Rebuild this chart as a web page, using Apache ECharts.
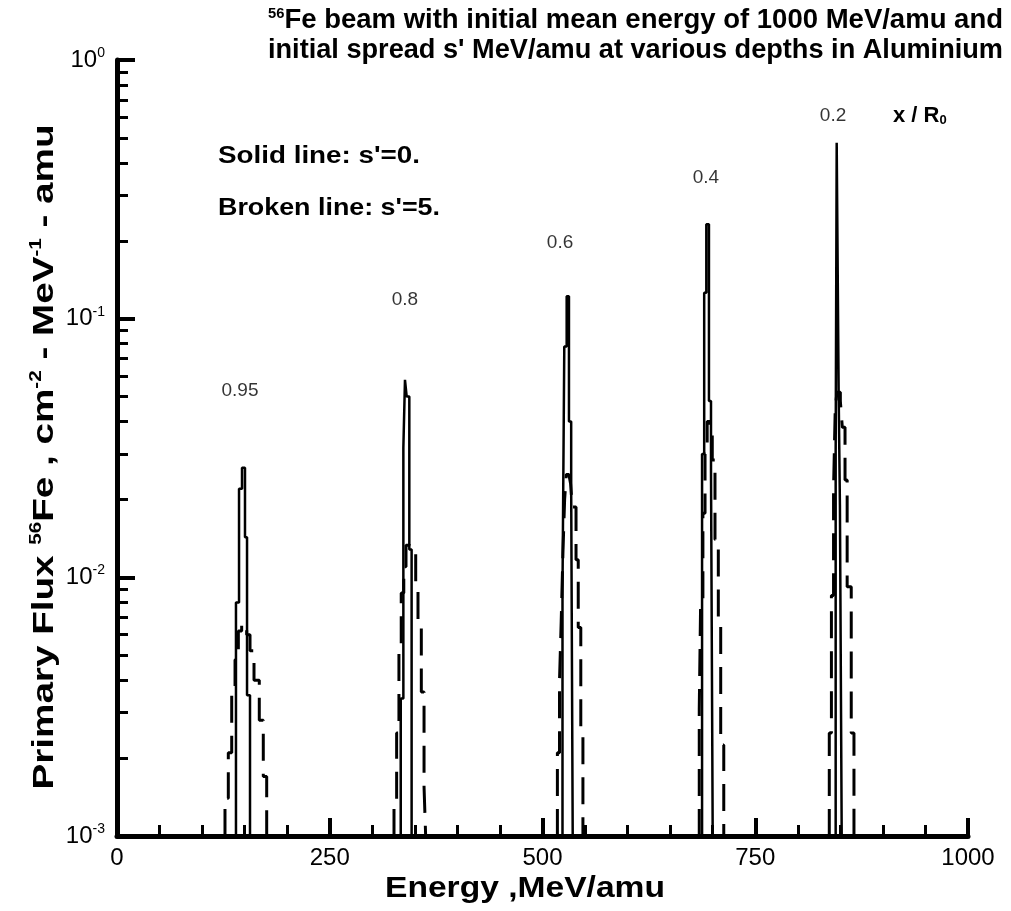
<!DOCTYPE html>
<html><head><meta charset="utf-8">
<script src="https://cdn.jsdelivr.net/npm/echarts@6/dist/echarts.min.js"></script>
<style>html,body{margin:0;padding:0;background:#fff}#c{width:1011px;height:911px}</style>
</head><body><div id="c"></div>
<script>
const FONT = "'Liberation Sans',Arial,sans-serif";

// ---- tick labels ----
const xTickValues = [0, 250, 500, 750, 1000];
const yMinorTicks = [0.002,0.003,0.004,0.005,0.006,0.007,0.008,0.009,
                     0.02,0.03,0.04,0.05,0.06,0.07,0.08,0.09,
                     0.2,0.3,0.4,0.5,0.6,0.7,0.8,0.9];

// ---- depth labels x/R0 ----
const depthLabels = ['0.95', '0.8', '0.6', '0.4', '0.2'];
const depthLabelE = [144.5, 338.4, 520.6, 692.1, 841.4];
const depthLabelV = [0.0525, 0.118, 0.196, 0.35, 0.607];

// ---- solid lines, s'=0 (bin edges in MeV/amu, flux per bin) ----
const solid095E = [139.8, 143.4, 146.9, 150.4, 152.8, 156.3];
const solid095V = [0.008, 0.022, 0.0265, 0.0143, 0.0035];
const solid080E = [333.4, 336.5, 338.4, 340.4, 343.5, 346.2];
const solid080V = [0.0034, 0.0316, 0.058, 0.050, 0.0128];
const solid060E = [523.5, 525.6, 528.4, 531.1, 533.7, 535.5];
const solid060V = [0.009, 0.078, 0.122, 0.040, 0.022];
const solid040E = [687.5, 690.0, 692.5, 695.6, 698.0, 700.0];
const solid040V = [0.030, 0.126, 0.232, 0.048, 0.026];
const solid020E = [844.5, 845.7, 848.0, 849.5, 851.6];
const solid020V = [0.03, 0.479, 0.052, 0.019];

// ---- broken lines, s'=5 ----
const dash095E = [126.9, 130.8, 134.8, 138.7, 142.6, 146.5, 152.4, 156.3, 161.0, 167.2, 171.9, 175.9];
const dash095V = [0.0014, 0.0021, 0.0036, 0.0048, 0.0062, 0.0066, 0.0060, 0.0052, 0.0040, 0.0028, 0.0017];
const dash080E = [325.5, 328.6, 331.3, 334.0, 337.0, 339.6, 343.5, 347.4, 351.0, 353.7, 357.6, 360.8, 362.7];
const dash080V = [0.0013, 0.0025, 0.0051, 0.0087, 0.011, 0.0133, 0.0131, 0.0125, 0.0092, 0.0066, 0.0036, 0.00155];
const dash060E = [517.5, 520.0, 522.0, 524.0, 526.0, 528.0, 531.0, 533.0, 535.0, 539.4, 542.0, 545.0, 547.5];
const dash060V = [0.0021, 0.0040, 0.0068, 0.0124, 0.020, 0.025, 0.025, 0.023, 0.0187, 0.0117, 0.0064, 0.0025];
const dash040E = [684.2, 685.8, 688.5, 691.0, 693.5, 697.0, 699.5, 702.7, 706.6, 709.4, 713.0];
const dash040V = [0.0031, 0.0079, 0.0177, 0.030, 0.040, 0.036, 0.0284, 0.014, 0.007, 0.00225];
const dash020E = [837.0, 839.5, 842.0, 844.0, 846.0, 850.0, 852.3, 855.5, 858.0, 862.8, 866.0];
const dash020V = [0.0025, 0.0085, 0.022, 0.045, 0.052, 0.048, 0.038, 0.0238, 0.0092, 0.0025];

const BASE = 0.001;
function hist(edges, vals) {
  const d = [[edges[0], BASE]];
  for (let i = 0; i < vals.length; i++) d.push([edges[i], vals[i]]);
  d.push([edges[edges.length - 1], BASE]);
  return d;
}
const solidSets = [[solid095E, solid095V], [solid080E, solid080V], [solid060E, solid060V], [solid040E, solid040V], [solid020E, solid020V]];
const dashSets = [[dash095E, dash095V], [dash080E, dash080V], [dash060E, dash060V], [dash040E, dash040V], [dash020E, dash020V]];

// text width helper (to fit the narrow font of the original)
const mctx = document.createElement('canvas').getContext('2d');
function tw(str, size, bold) { mctx.font = (bold ? 'bold ' : '') + size + 'px ' + FONT; return mctx.measureText(str).width; }

const series = [];
solidSets.forEach(s => series.push({
  type: 'line', step: 'end', symbol: 'none', silent: true, animation: false,
  data: hist(s[0], s[1]), lineStyle: { color: '#000', width: 2.5, type: 'solid' }
}));
dashSets.forEach(s => series.push({
  type: 'line', step: 'end', symbol: 'none', silent: true, animation: false,
  data: hist(s[0], s[1]), lineStyle: { color: '#000', width: 3, type: [27, 13] }
}));
series.push({
  type: 'scatter', symbolSize: 0, silent: true, animation: false,
  data: depthLabels.map((t, i) => ({ value: [depthLabelE[i], depthLabelV[i]], name: t })),
  label: { show: true, position: 'inside', formatter: p => p.name, color: '#000',
           fontFamily: FONT, fontSize: 19 }
});

// title lines
const T1a = '56', T1b = 'Fe beam with initial mean energy of 1000 MeV/amu and';
const T2 = "initial spread s' MeV/amu at various depths in Aluminium";
const sc1 = 735 / (tw(T1a, 15, true) + tw(T1b, 28, true));
const sc2 = 735 / tw(T2, 28, true);
const L1 = "Solid line: s'=0.", L2 = "Broken line: s'=5.";
const scL1 = 202 / tw(L1, 24, true), scL2 = 222 / tw(L2, 24, true);
const YN = ['Primary Flux ', '56', 'Fe , cm', '-2', ' - MeV', '-1', ' - amu'];
const ynW = YN.reduce((a, s, i) => a + tw(s, i % 2 ? 16 : 30, true), 0);
const scYN = 665 / ynW;
const XN = 'Energy ,MeV/amu';
const scXN = 280 / tw(XN, 30, true);

const chart = echarts.init(document.getElementById('c'), null, { renderer: 'canvas' });
chart.setOption({
  animation: false,
  backgroundColor: '#fff',
  grid: { left: 117, right: 43, top: 60, bottom: 75, containLabel: false },
  xAxis: {
    type: 'value', min: 0, max: 1000, interval: 250,
    axisLine: { show: true, lineStyle: { color: '#000', width: 5 } },
    axisTick: { show: true, inside: true, length: 18, lineStyle: { color: '#000', width: 4 } },
    minorTick: { show: true, splitNumber: 5, length: 11, lineStyle: { color: '#000', width: 3 } },
    axisLabel: { color: '#000', fontFamily: FONT, fontSize: 24, margin: 10,
                 formatter: v => xTickValues.indexOf(v) >= 0 ? String(v) : '' },
    splitLine: { show: false }, minorSplitLine: { show: false }
  },
  yAxis: [{
    type: 'log', logBase: 10, min: 0.001, max: 1,
    axisLine: { show: true, lineStyle: { color: '#000', width: 5 } },
    axisTick: { show: true, inside: true, length: 18, lineStyle: { color: '#000', width: 4 } },
    axisLabel: { color: '#000', margin: 12,
      formatter: v => '{b|10}{s|' + Math.round(Math.log10(v)) + '}',
      rich: { b: { fontFamily: FONT, fontSize: 24, color: '#000' },
              s: { fontFamily: FONT, fontSize: 14, color: '#000', padding: [0, 0, 14, 0] } } },
    splitLine: { show: false }
  }, {
    type: 'log', logBase: 10, min: 0.001, max: 1, position: 'left',
    axisLine: { show: false },
    axisTick: { show: true, inside: true, length: 11, customValues: yMinorTicks,
                lineStyle: { color: '#000', width: 3 } },
    axisLabel: { show: false },
    splitLine: { show: false }
  }],
  series: series,
  graphic: [
    { type: 'text', x: 268, y: 6, scaleX: sc1, style: {
      text: '{s|' + T1a + '}{t|' + T1b + '}',
      rich: { s: { fontFamily: FONT, fontWeight: 'bold', fontSize: 15, fill: '#000', padding: [0, 0, 14, 0] },
              t: { fontFamily: FONT, fontWeight: 'bold', fontSize: 28, fill: '#000' } } } },
    { type: 'text', x: 268, y: 36, scaleX: sc2, style: {
      text: T2, font: "bold 28px " + FONT, fill: '#000' } },
    { type: 'text', x: 218, y: 144, scaleX: scL1, style: {
      text: L1, font: "bold 24px " + FONT, fill: '#000' } },
    { type: 'text', x: 218, y: 196, scaleX: scL2, style: {
      text: L2, font: "bold 24px " + FONT, fill: '#000' } },
    { type: 'text', x: 893, y: 104, style: {
      text: '{t|x / R}{u|0}',
      rich: { t: { fontFamily: FONT, fontWeight: 'bold', fontSize: 22, fill: '#000' },
              u: { fontFamily: FONT, fontWeight: 'bold', fontSize: 13, fill: '#000', padding: [10, 0, 0, 0] } } } },
    { type: 'text', x: 45, y: 457, rotation: Math.PI / 2, scaleX: scYN, style: {
      text: '{t|' + YN[0] + '}{s|' + YN[1] + '}{t|' + YN[2] + '}{s|' + YN[3] + '}{t|' + YN[4] + '}{s|' + YN[5] + '}{t|' + YN[6] + '}',
      align: 'center', verticalAlign: 'middle',
      rich: { t: { fontFamily: FONT, fontWeight: 'bold', fontSize: 30, fill: '#000' },
              s: { fontFamily: FONT, fontWeight: 'bold', fontSize: 16, fill: '#000', padding: [0, 0, 16, 0] } } } },
    { type: 'text', x: 525, y: 889, scaleX: scXN, style: {
      text: XN, align: 'center', verticalAlign: 'middle',
      font: "bold 30px " + FONT, fill: '#000' } }
  ]
});
</script>
</body></html>
